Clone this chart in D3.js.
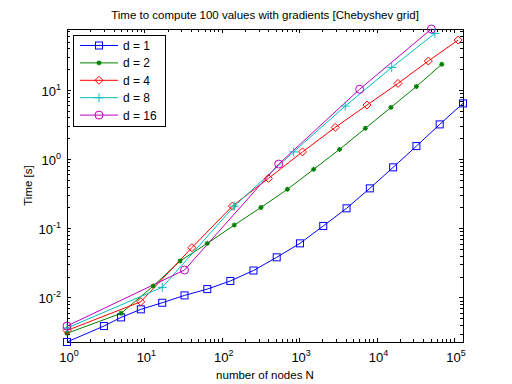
<!DOCTYPE html>
<html>
<head>
<meta charset="utf-8">
<script src="https://cdn.jsdelivr.net/npm/d3@7"></script>
<style>
  body { margin: 0; background: #ffffff; }
  svg { display: block; }
  text { font-family: "Liberation Sans", Arial, Helvetica, sans-serif; fill: #000; }
</style>
</head>
<body>
<svg id="chart" width="512" height="384"></svg>
<script>
// ---- data ----
const seriesNames = ["d = 1", "d = 2", "d = 4", "d = 8", "d = 16"];
const nodes1 = [1, 3, 5, 9, 17, 33, 65, 129, 257, 513, 1025, 2049, 4097, 8193, 16385, 32769, 65537, 131073];
const times1 = [0.00227, 0.00386, 0.00515, 0.00673, 0.00838, 0.0107, 0.0132, 0.0173, 0.0245, 0.038, 0.0605, 0.108, 0.194, 0.377, 0.759, 1.54, 3.17, 6.38];
const nodes2 = [1, 5, 13, 29, 65, 145, 321, 705, 1537, 3329, 7169, 15361, 32769, 69633];
const times2 = [0.00303, 0.00589, 0.0146, 0.0336, 0.0605, 0.111, 0.200, 0.365, 0.71, 1.38, 2.78, 5.58, 11.2, 23.4];
const nodes4 = [1, 9, 41, 137, 401, 1105, 2929, 7537, 18945, 46721, 113409];
const times4 = [0.00333, 0.00867, 0.0523, 0.209, 0.526, 1.27, 2.87, 6.03, 12.4, 26.1, 52.5];
const nodes8 = [1, 17, 145, 849, 3937, 15713, 56737];
const times8 = [0.00361, 0.014, 0.209, 1.27, 5.83, 21.1, 65.5];
const nodes16 = [1, 33, 545, 6049, 51137];
const times16 = [0.00386, 0.0249, 0.847, 10.2, 75.8];
const xTickExponents = [0, 1, 2, 3, 4, 5];
const yTickExponents = [-2, -1, 0, 1];
const titleText = "Time to compute 100 values with gradients [Chebyshev grid]";
const xLabelText = "number of nodes N";
const yLabelText = "Time [s]";

// ---- styles ----
const colors = ["#0000ff", "#008000", "#ff0000", "#00bfbf", "#bf00bf"];
const markerKinds = ["square", "star", "diamond", "plus", "circle"];

const series = [
  { name: seriesNames[0], N: nodes1, T: times1 },
  { name: seriesNames[1], N: nodes2, T: times2 },
  { name: seriesNames[2], N: nodes4, T: times4 },
  { name: seriesNames[3], N: nodes8, T: times8 },
  { name: seriesNames[4], N: nodes16, T: times16 }
].map((s, i) => ({ ...s, color: colors[i], marker: markerKinds[i],
  pts: s.N.map((n, j) => ({ n: n, t: s.T[j] })) }));

const W = 512, H = 384;
const margin = { left: 67, right: 49, top: 29, bottom: 42 };
const x0 = margin.left, x1 = W - margin.right, y0 = H - margin.bottom, y1 = margin.top;

const allN = series.flatMap(s => s.N), allT = series.flatMap(s => s.T);
const x = d3.scaleLog().domain([d3.min(allN), d3.max(allN)]).range([x0, x1]);
const y = d3.scaleLog().domain([d3.min(allT), d3.max(allT)]).range([y0, y1]);

const svg = d3.select("#chart");
svg.append("rect").attr("width", W).attr("height", H).attr("fill", "#fff");

// minor/major tick values
function logTicks(domain) {
  const lo = Math.floor(Math.log10(domain[0])), hi = Math.ceil(Math.log10(domain[1]));
  const major = [], minor = [];
  for (let e = lo; e <= hi; e++) {
    for (let m = 1; m <= 9; m++) {
      const v = m * Math.pow(10, e);
      if (v < domain[0] * 0.9999 || v > domain[1] * 1.0001) continue;
      (m === 1 ? major : minor).push(v);
    }
  }
  return { major, minor };
}
const xt = logTicks(x.domain()), yt = logTicks(y.domain());
const majLen = 4, minLen = 3;

const axesG = svg.append("g").attr("shape-rendering", "crispEdges").attr("stroke", "#000").attr("stroke-width", 1);
// x ticks bottom & top
xt.major.concat(xt.minor).forEach(v => {
  const L = xt.major.includes(v) ? majLen : minLen;
  const px = Math.round(x(v)) + 0.5;
  axesG.append("line").attr("x1", px).attr("x2", px).attr("y1", y0).attr("y2", y0 - L);
  axesG.append("line").attr("x1", px).attr("x2", px).attr("y1", y1).attr("y2", y1 + L);
});
yt.major.concat(yt.minor).forEach(v => {
  const L = yt.major.includes(v) ? majLen : minLen;
  const py = Math.round(y(v)) + 0.5;
  axesG.append("line").attr("x1", x0).attr("x2", x0 + L).attr("y1", py).attr("y2", py);
  axesG.append("line").attr("x1", x1).attr("x2", x1 - L).attr("y1", py).attr("y2", py);
});
axesG.append("rect").attr("x", x0 + 0.5).attr("y", y1 + 0.5).attr("width", x1 - x0).attr("height", y0 - y1)
  .attr("fill", "none");

// tick labels
xTickExponents.forEach(e => {
  const t = svg.append("text").attr("x", x(Math.pow(10, e)) + 2).attr("y", 362)
    .attr("text-anchor", "middle").attr("font-size", 13);
  t.append("tspan").text("10");
  t.append("tspan").attr("font-size", 9).attr("dy", -6).text(String(e));
});
yTickExponents.forEach(e => {
  const t = svg.append("text").attr("x", 61).attr("y", y(Math.pow(10, e)) + 6)
    .attr("text-anchor", "end").attr("font-size", 13);
  t.append("tspan").text("10");
  t.append("tspan").attr("font-size", 9).attr("dy", -6).text(String(e));
});

// title and labels
svg.append("text").attr("x", (x0 + x1) / 2).attr("y", 19).attr("text-anchor", "middle")
  .attr("font-size", 11.5).text(titleText);
svg.append("text").attr("x", (x0 + x1) / 2).attr("y", 379).attr("text-anchor", "middle")
  .attr("font-size", 11.5).text(xLabelText);
svg.append("text").attr("transform", `translate(32,${(y0 + y1) / 2}) rotate(-90)`)
  .attr("text-anchor", "middle").attr("font-size", 11.5).text(yLabelText);

// markers
function drawMarker(g, kind, cx, cy, color) {
  if (kind === "square") {
    g.append("rect").attr("x", cx - 3.5).attr("y", cy - 3.5).attr("width", 7).attr("height", 7)
      .attr("fill", "none").attr("stroke", color).attr("stroke-width", 1);
  } else if (kind === "diamond") {
    g.append("path").attr("d", `M${cx},${cy - 4}L${cx + 4},${cy}L${cx},${cy + 4}L${cx - 4},${cy}Z`)
      .attr("fill", "none").attr("stroke", color).attr("stroke-width", 1);
  } else if (kind === "circle") {
    g.append("circle").attr("cx", cx).attr("cy", cy).attr("r", 4)
      .attr("fill", "none").attr("stroke", color).attr("stroke-width", 1);
  } else if (kind === "plus") {
    g.append("path").attr("d", `M${cx - 4.5},${cy}H${cx + 4.5}M${cx},${cy - 4.5}V${cy + 4.5}`)
      .attr("stroke", color).attr("stroke-width", 1);
  } else if (kind === "star") {
    const r = 2.5, d = 1.8;
    g.append("path").attr("d", `M${cx - r},${cy}H${cx + r}M${cx},${cy - r}V${cy + r}M${cx - d},${cy - d}L${cx + d},${cy + d}M${cx - d},${cy + d}L${cx + d},${cy - d}`)
      .attr("stroke", color).attr("stroke-width", 1.2);
  }
}

const plotG = svg.append("g");
const line = d3.line().x(d => x(d.n)).y(d => y(d.t));
series.forEach(s => {
  plotG.append("path").datum(s.pts).attr("d", line).attr("fill", "none")
    .attr("stroke", s.color).attr("stroke-width", 1);
});
series.forEach(s => {
  const g = plotG.append("g");
  s.pts.forEach(p => drawMarker(g, s.marker, x(p.n), y(p.t), s.color));
});

// legend
const lg = svg.append("g");
lg.append("rect").attr("x", 73.5).attr("y", 35.5).attr("width", 92).attr("height", 91)
  .attr("fill", "#fff").attr("stroke", "#000").attr("stroke-width", 1).attr("shape-rendering", "crispEdges");
series.forEach((s, i) => {
  const cy = 45.5 + i * 17.4;
  lg.append("line").attr("x1", 80).attr("x2", 118).attr("y1", cy).attr("y2", cy)
    .attr("stroke", s.color).attr("stroke-width", 1);
  drawMarker(lg, s.marker, 99, cy, s.color);
  lg.append("text").attr("x", 123).attr("y", cy + 4.5).attr("font-size", 12).text(s.name);
});
</script>
</body>
</html>
